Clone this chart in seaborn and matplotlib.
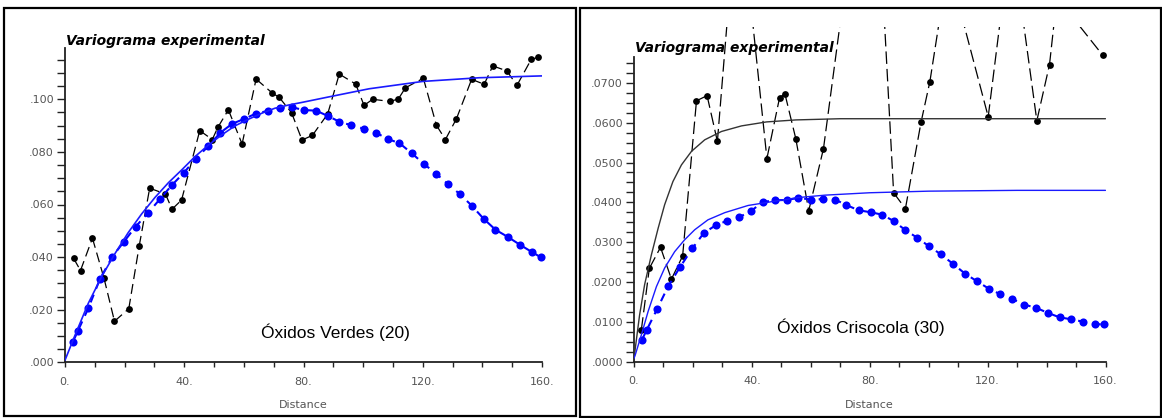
import numpy as np
import pandas as pd
import matplotlib
matplotlib.use("Agg")
import matplotlib.pyplot as plt
import seaborn as sns
from matplotlib.patches import Rectangle
from matplotlib.ticker import FixedLocator, FuncFormatter

# ---------------- data: left panel (Óxidos Verdes) ----------------
left_exp_x = [2.9, 5.2, 9.2, 13.1, 16.6, 21.4, 24.9, 28.4, 33.7, 35.9, 39.1, 45.2, 49.4,
              51.3, 54.8, 59.4, 64.1, 69.6, 71.8, 76.0, 79.5, 83.0, 88.1, 92.0, 97.5,
              100.3, 103.2, 109.0, 111.8, 114.2, 120.2, 124.6, 127.6, 131.3, 136.4,
              140.6, 143.5, 148.2, 151.6, 156.4, 158.8]
left_exp_y = [0.0395, 0.0349, 0.0472, 0.0319, 0.0156, 0.0204, 0.0443, 0.0662, 0.0640,
              0.0582, 0.0617, 0.0881, 0.0847, 0.0894, 0.0960, 0.0830, 0.1077, 0.1023,
              0.1008, 0.0949, 0.0845, 0.0863, 0.0944, 0.1096, 0.1058, 0.0977, 0.1000,
              0.0992, 0.1001, 0.1044, 0.1080, 0.0901, 0.0847, 0.0926, 0.1076, 0.1057,
              0.1127, 0.1108, 0.1053, 0.1152, 0.1160]
left_reg_x = [2.6, 4.3, 7.8, 11.7, 15.9, 19.8, 23.7, 27.8, 31.8, 35.8, 39.8, 43.9, 48.0,
              52.1, 56.1, 60.0, 64.1, 68.1, 72.1, 76.0, 80.2, 84.2, 88.1, 92.0, 96.1,
              100.3, 104.3, 108.3, 112.2, 116.3, 120.4, 124.5, 128.5, 132.5, 136.4,
              140.4, 144.4, 148.5, 152.6, 156.5, 159.5]
left_reg_y = [0.0076, 0.0119, 0.0205, 0.0316, 0.0402, 0.0459, 0.0516, 0.0567, 0.0620,
              0.0673, 0.0720, 0.0774, 0.0821, 0.0873, 0.0907, 0.0925, 0.0946, 0.0956,
              0.0968, 0.0970, 0.0959, 0.0957, 0.0937, 0.0915, 0.0901, 0.0888, 0.0873,
              0.0849, 0.0833, 0.0795, 0.0754, 0.0717, 0.0677, 0.0639, 0.0596, 0.0546,
              0.0504, 0.0477, 0.0447, 0.0420, 0.0400]
left_model_x = [0.0, 3.4, 7.8, 12.3, 16.8, 21.2, 25.7, 30.2, 34.7, 39.1, 43.6, 48.1, 52.5,
                57.0, 61.5, 66.0, 70.4, 74.9, 79.4, 88.0, 102.0, 120.0, 139.0, 160.0]
left_model_y = [0.0008, 0.0104, 0.0224, 0.0326, 0.0414, 0.0493, 0.0564, 0.0627, 0.0683,
                0.0731, 0.0782, 0.0826, 0.0864, 0.0899, 0.0924, 0.0947, 0.0966, 0.0978,
                0.0988, 0.1008, 0.1040, 0.1068, 0.1082, 0.1089]

# ---------------- data: right panel (Óxidos Crisocola) ----------------
right_exp_x = [2.5, 5.2, 9.0, 12.7, 16.5, 21.2, 24.8, 28.3, 35.4, 45.1, 49.4, 51.2, 54.9,
               59.3, 64.3, 80.7, 88.1, 92.1, 97.4, 100.4, 106.6, 120.2, 128.0, 136.7,
               141.0, 143.5, 159.0]
right_exp_y = [0.0080, 0.0234, 0.0287, 0.0207, 0.0265, 0.0655, 0.0668, 0.0553, 0.1198,
               0.0510, 0.0663, 0.0673, 0.0560, 0.0379, 0.0535, 0.1448, 0.0424, 0.0384,
               0.0601, 0.0703, 0.0997, 0.0615, 0.1077, 0.0605, 0.0746, 0.0915, 0.0770]
right_reg_x = [2.6, 4.3, 7.8, 11.6, 15.6, 19.8, 23.7, 27.7, 31.7, 35.8, 39.7, 43.7, 47.9,
               51.9, 55.8, 60.0, 64.1, 68.2, 72.1, 76.2, 80.3, 84.2, 88.1, 92.1, 96.1,
               100.2, 104.2, 108.3, 112.3, 116.3, 120.4, 124.3, 128.4, 132.4, 136.4,
               140.5, 144.4, 148.4, 152.4, 156.5, 159.5]
right_reg_y = [0.0053, 0.0079, 0.0131, 0.0189, 0.0237, 0.0284, 0.0323, 0.0342, 0.0354,
               0.0363, 0.0378, 0.0401, 0.0405, 0.0406, 0.0411, 0.0407, 0.0408, 0.0407,
               0.0393, 0.0380, 0.0375, 0.0369, 0.0353, 0.0330, 0.0311, 0.0289, 0.0269,
               0.0245, 0.0221, 0.0202, 0.0183, 0.0169, 0.0157, 0.0143, 0.0135, 0.0122,
               0.0111, 0.0106, 0.0100, 0.0094, 0.0093]
right_model_x = [0.0, 0.45, 1.9, 3.6, 5.9, 8.2, 10.4, 13.2, 16.1, 19.5, 24.0, 29.7, 36.5,
                 45.0, 55.0, 70.0, 100.0, 160.0]
right_model_y = [0.0005, 0.0034, 0.0117, 0.0193, 0.0268, 0.0335, 0.0394, 0.0452, 0.0494,
                 0.0528, 0.0557, 0.0578, 0.0592, 0.0602, 0.0607, 0.0610, 0.0610, 0.0610]
right_model2_x = [0.0, 0.45, 2.5, 4.8, 7.6, 10.4, 13.8, 17.2, 20.6, 25.1, 30.8, 38.7, 47.9,
                  55.8, 64.9, 80.0, 100.0, 130.0, 160.0]
right_model2_y = [0.0008, 0.0017, 0.0067, 0.0126, 0.0188, 0.0235, 0.0276, 0.0306, 0.0331,
                  0.0356, 0.0374, 0.0392, 0.0403, 0.0412, 0.0418, 0.0424, 0.0428, 0.0430,
                  0.0430]

# ---------------- labels / ticks ----------------
title_text = "Variograma experimental"
x_label = "Distance"
left_note = "Óxidos Verdes (20)"
right_note = "Óxidos Crisocola (30)"
x_ticks = [0, 40, 80, 120, 160]
left_y_ticks = [0.0, 0.02, 0.04, 0.06, 0.08, 0.10]
right_y_ticks = [0.0, 0.01, 0.02, 0.03, 0.04, 0.05, 0.06, 0.07]

sns.set_style("white")
plt.rcParams['font.family'] = ['DejaVu Sans']

W, H = 1162, 418
fig = plt.figure(figsize=(W / 100, H / 100), dpi=100)
fig.patch.set_facecolor("white")


def px_rect(x0, y0, x1, y1):
    return [x0 / W, 1 - y1 / H, (x1 - x0) / W, (y1 - y0) / H]


def seg_frame(xs, ys):
    rows = []
    for i in range(len(xs) - 1):
        rows.append((xs[i], ys[i], i))
        rows.append((xs[i + 1], ys[i + 1], i))
    return pd.DataFrame(rows, columns=["x", "y", "seg"])


TICK_COL = "#555555"


def style_axis(ax, ytop, spine_top, yticks, minor_step, fmt):
    ax.set_xlim(0, 160)
    ax.set_ylim(0, ytop)
    for s in ["top", "right"]:
        ax.spines[s].set_visible(False)
    for s in ["left", "bottom"]:
        ax.spines[s].set_color("#222222")
        ax.spines[s].set_linewidth(1.3)
    ax.spines["left"].set_bounds(0, spine_top)
    ax.xaxis.set_major_locator(FixedLocator(x_ticks))
    ax.xaxis.set_minor_locator(FixedLocator(np.arange(0, 161, 10)))
    ax.xaxis.set_major_formatter(FuncFormatter(lambda v, p: f"{int(round(v))}."))
    ax.yaxis.set_major_locator(FixedLocator(yticks))
    ax.yaxis.set_minor_locator(FixedLocator(np.arange(0, spine_top + 1e-9, minor_step)))
    ax.yaxis.set_major_formatter(FuncFormatter(fmt))
    ax.tick_params(axis="x", which="both", direction="out", length=3.5, width=1.0,
                   color="#222222", bottom=True, pad=7, labelsize=8, labelcolor=TICK_COL)
    ax.tick_params(axis="y", which="both", direction="out", length=6, width=1.0,
                   color="#222222", left=True, pad=2, labelsize=8, labelcolor=TICK_COL)
    ax.set_xlabel("")
    ax.set_ylabel("")
    ax.grid(False)
    ax.set_facecolor("none")


def draw_panel(ax, ex, ey, rx, ry, dash):
    # experimental (black) – dashed pieces restarting at every point
    sns.lineplot(data=seg_frame(ex, ey), x="x", y="y", units="seg", estimator=None,
                 sort=False, color="black", lw=0.9, linestyle=(0, dash), ax=ax,
                 legend=False, zorder=2)
    sns.scatterplot(x=ex, y=ey, color="black", s=24, linewidth=0, ax=ax, zorder=3,
                    legend=False)
    # regularised (blue)
    sns.lineplot(x=rx, y=ry, color="#0000ff", lw=1.5, linestyle=(0, (4, 3)), ax=ax,
                 legend=False, zorder=4, sort=False, estimator=None)
    sns.scatterplot(x=rx, y=ry, color="#0000ff", s=34, linewidth=0, ax=ax, zorder=5,
                    legend=False, clip_on=False)


# ---------------- left panel ----------------
axL = fig.add_axes(px_rect(65, 27, 542, 362.3))
draw_panel(axL, left_exp_x, left_exp_y, left_reg_x, left_reg_y, (8, 4))
sns.lineplot(x=left_model_x, y=left_model_y, color="#1a1aff", lw=1.2, ax=axL,
             legend=False, zorder=6, sort=False, estimator=None)
style_axis(axL, (362.3 - 27) / 2630, 0.1194, left_y_ticks, 0.005,
           lambda v, p: f"{v:.3f}"[1:])
axL.text(90.6, 0.0115, left_note, ha="center", va="center", fontsize=12.5,
         family="Liberation Sans", color="black")

# ---------------- right panel ----------------
axR = fig.add_axes(px_rect(634, 27, 1105.5, 361.5))
draw_panel(axR, right_exp_x, right_exp_y, right_reg_x, right_reg_y, (10, 4))
sns.lineplot(x=right_model_x, y=right_model_y, color="#333333", lw=1.0, ax=axR,
             legend=False, zorder=6, sort=False, estimator=None)
sns.lineplot(x=right_model2_x, y=right_model2_y, color="#1a1aff", lw=1.0, ax=axR,
             legend=False, zorder=6, sort=False, estimator=None)
style_axis(axR, (361.5 - 27) / 3980, 0.0765, right_y_ticks, 0.0025,
           lambda v, p: f"{v:.4f}"[1:])
axR.text(77.1, 0.0086, right_note, ha="center", va="center", fontsize=12.5,
         family="Liberation Sans", color="black")

# ---------------- titles / axis labels ----------------
for x0, ybase in [(66, 45), (635, 52)]:
    fig.text(x0 / W, 1 - ybase / H, title_text, ha="left", va="baseline",
             fontsize=10, fontweight="bold", fontstyle="italic", color="black")
for xc in [303.5, 869.5]:
    fig.text(xc / W, 1 - 405 / H, x_label, ha="center", va="center",
             fontsize=8, color=TICK_COL)

# ---------------- panel borders ----------------
for (x0, y0, x1, y1) in [(4, 8, 576, 416), (580, 8, 1160.5, 416.5)]:
    fig.patches.append(Rectangle((x0 / W, 1 - y1 / H), (x1 - x0) / W, (y1 - y0) / H,
                                 transform=fig.transFigure, fill=False,
                                 edgecolor="black", linewidth=1.6, zorder=10))

fig.savefig("out.png", dpi=100, facecolor="white")
